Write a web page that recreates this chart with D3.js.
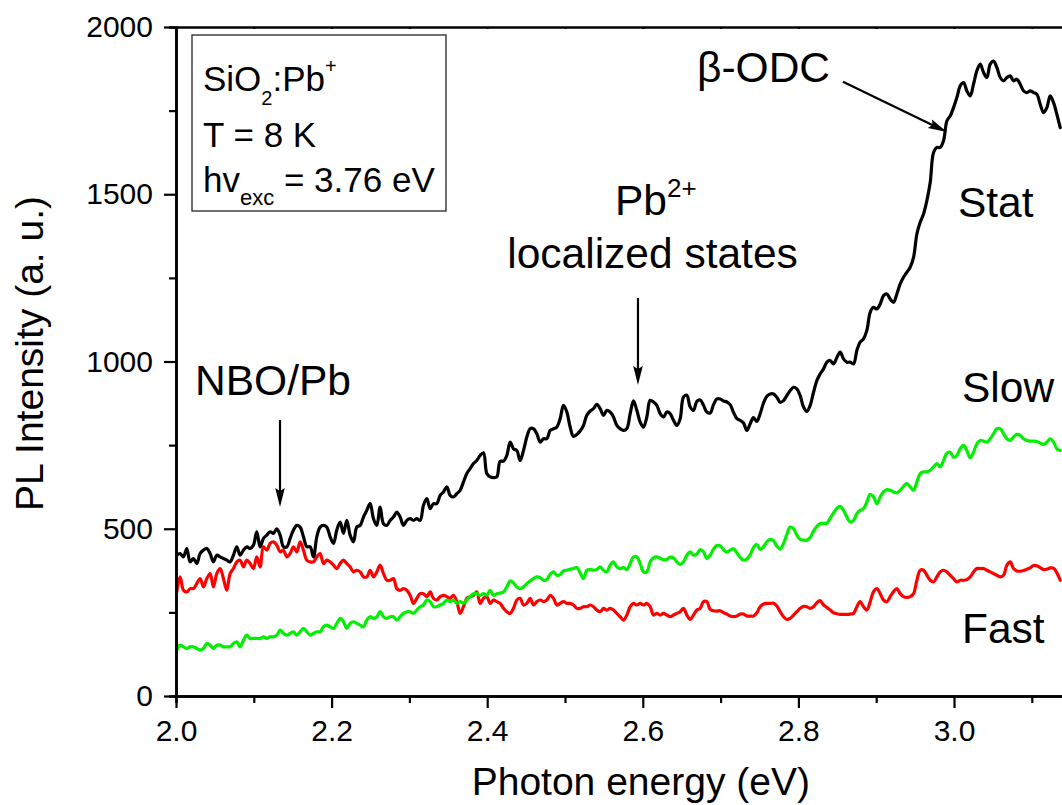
<!DOCTYPE html>
<html>
<head>
<meta charset="utf-8">
<script src="https://cdn.jsdelivr.net/npm/d3@7"></script>
<style>
  html, body { margin: 0; padding: 0; background: #fff; }
  svg { display: block; font-family: "Liberation Sans", Arial, Helvetica, sans-serif; }
</style>
</head>
<body>
<svg id="chart" width="1062" height="805"></svg>
<script>
// Spectrometer channel grid (eV)
const energyStart = 2.001;
const energyStep = 0.004285;

// Steady-state PL spectrum
const statValues = [
  421, 426, 416, 441, 401, 411, 396, 426, 436, 441,
  426, 401, 421, 416, 411, 406, 401, 421, 446, 421,
  436, 446, 441, 451, 491, 446, 471, 481, 491, 486,
  500, 481, 446, 446, 471, 496, 510, 505, 476, 446,
  446, 416, 476, 505, 510, 505, 476, 456, 496, 520,
  486, 525, 481, 461, 505, 510, 535, 555, 575, 530,
  510, 565, 515, 510, 525, 535, 550, 535, 510, 525,
  530, 525, 530, 525, 570, 590, 560, 575, 575, 600,
  610, 625, 600, 595, 605, 615, 640, 665, 680, 695,
  704, 719, 727, 665, 655, 653, 655, 702,
  702, 719, 759, 739, 734, 704, 734, 774, 799, 799,
  784, 759, 769, 769, 794, 799, 804, 829, 869, 849,
  804, 776, 782, 792, 809, 839, 852, 859, 872, 859,
  839, 854, 849, 834, 809, 799, 794, 799, 844, 882,
  854, 819, 804, 834, 884, 879, 869, 844, 834, 849,
  844, 824, 809, 829, 894, 899, 864, 854, 881, 885,
  869, 849, 846, 871, 888, 888, 882, 879, 871, 848,
  829, 824, 816, 794, 814, 832, 821, 844, 876, 896,
  903, 903, 893, 878, 883, 898, 913, 923, 918, 898,
  864, 851, 869, 908, 943, 963, 978, 998, 1003, 993,
  1012, 1028, 1008, 998, 998, 993, 1033, 1058, 1068, 1093,
  1147, 1162, 1157, 1172, 1197, 1202, 1187, 1177, 1202, 1232,
  1252, 1267, 1282, 1311, 1381, 1416, 1441, 1481, 1535, 1625,
  1640, 1640, 1660, 1719, 1734, 1759, 1789, 1824, 1834, 1809,
  1794, 1829, 1869, 1889, 1864, 1849, 1889, 1898, 1879, 1849,
  1839, 1849, 1854, 1839, 1844, 1829, 1809, 1804, 1809, 1804,
  1799, 1769, 1744, 1759, 1794, 1774, 1739, 1699
];

// Slow time-resolved component
const slowValues = [
  137, 152, 147, 142, 147, 147, 142, 137, 142, 157,
  152, 142, 152, 152, 147, 147, 147, 157, 162, 147,
  167, 182, 172, 172, 172, 172, 177, 172, 177, 177,
  182, 197, 187, 182, 187, 192, 182, 192, 202, 192,
  182, 187, 192, 192, 207, 212, 207, 202, 217, 232,
  222, 202, 217, 222, 217, 212, 207, 227, 237, 232,
  237, 252, 237, 232, 237, 237, 227, 237, 247, 252,
  252, 247, 257, 267, 272, 287, 282, 267, 267, 272,
  277, 287, 282, 287, 277, 282, 277, 287, 297, 306,
  306, 301, 306, 301, 316, 301, 306, 308,
  311, 326, 344, 338, 326, 321, 326, 336, 344, 351,
  356, 354, 346, 348, 364, 371, 361, 363, 374, 376,
  379, 381, 384, 368, 351, 376, 378, 376, 378, 386,
  376, 371, 391, 401, 386, 381, 384, 378, 396, 416,
  416, 396, 371, 371, 401, 413, 416, 412, 407, 408,
  415, 413, 401, 393, 401, 421, 431, 421, 424, 438,
  431, 411, 421, 439, 450, 449, 438, 430, 436, 440,
  428, 414, 406, 409, 422, 444, 453, 438, 446, 461,
  468, 464, 448, 439, 456, 483, 505, 500, 481, 468,
  466, 466, 474, 493, 507, 515, 516, 517, 532, 547,
  561, 567, 555, 535, 520, 525, 545, 555, 560, 580,
  603, 595, 575, 595, 610, 617, 615, 610, 607, 615,
  627, 635, 625, 615, 640, 665, 670, 670, 675, 685,
  695, 685, 704, 726, 729, 714, 719, 739, 749, 734,
  712, 729, 754, 764, 762, 759, 769, 784, 799, 799,
  784, 769, 764, 774, 782, 779, 769, 764, 762, 762,
  761, 756, 752, 759, 769, 759, 739, 734
];

// Fast time-resolved component
const fastValues = [
  311, 356, 316, 311, 321, 321, 336, 351, 326, 351,
  366, 326, 366, 381, 351, 316, 366, 381, 401, 406,
  386, 406, 396, 381, 416, 386, 446, 436, 456, 461,
  451, 431, 436, 416, 426, 446, 431, 461, 436, 406,
  401, 401, 416, 426, 396, 406, 401, 391, 381, 396,
  406, 396, 386, 371, 376, 371, 356, 356, 376, 356,
  371, 391, 366, 346, 346, 351, 321, 316, 321, 316,
  301, 277, 292, 306, 306, 297, 311, 292, 287, 297,
  301, 297, 292, 301, 282, 247, 267, 292, 297, 301,
  311, 277, 292, 297, 277, 287, 282, 277,
  262, 252, 247, 262, 287, 292, 272, 277, 292, 272,
  282, 287, 282, 287, 301, 292, 272, 277, 282, 277,
  277, 272, 262, 262, 267, 267, 272, 267, 257, 252,
  262, 257, 262, 257, 247, 237, 227, 242, 267, 277,
  272, 277, 272, 277, 267, 242, 247, 242, 247, 242,
  237, 242, 247, 252, 262, 242, 229, 242, 257, 262,
  282, 282, 259, 255, 254, 255, 249, 245, 239, 237,
  239, 245, 245, 239, 239, 239, 249, 267, 275, 277,
  277, 277, 269, 252, 237, 229, 232, 242, 252, 262,
  268, 267, 262, 267, 279, 285, 272, 265, 257, 249,
  246, 244, 244, 244, 245, 247, 267, 282, 267, 257,
  282, 312, 321, 306, 287, 282, 297, 312, 321, 306,
  297, 295, 297, 306, 346, 376, 376, 361, 346, 341,
  356, 371, 376, 371, 361, 351, 341, 346, 346, 348,
  356, 371, 381, 381, 381, 376, 371, 366, 361, 356,
  361, 391, 401, 381, 374, 373, 375, 379, 383, 390,
  389, 384, 378, 379, 383, 382, 368, 346
];

const xMajorTicks = [2.0, 2.2, 2.4, 2.6, 2.8, 3.0];
const xMinorTicks = [2.1, 2.3, 2.5, 2.7, 2.9, 3.1];
const yMajorTicks = [0, 500, 1000, 1500, 2000];
const yMinorTicks = [250, 750, 1250, 1750];

const series = [
  { name: "Fast", values: fastValues, color: "#ff0000" },
  { name: "Slow", values: slowValues, color: "#00f000" },
  { name: "Stat", values: statValues, color: "#000000" }
];

// ---- layout ----
const svg = d3.select("#chart");
const x = d3.scaleLinear().domain([2.0, 3.2]).range([176, 1109.6]);
const y = d3.scaleLinear().domain([0, 2000]).range([696, 27]);
const [x0, x1] = x.range();
const [yb, yt] = y.range();

svg.append("rect").attr("width", 1062).attr("height", 805).attr("fill", "#fff");

svg.append("defs").append("clipPath").attr("id", "plot-clip")
  .append("rect").attr("x", x0).attr("y", yt).attr("width", x1 - x0).attr("height", yb - yt);

// ---- spectra ----
const line = d3.line()
  .x((d, i) => x(energyStart + i * energyStep))
  .y(d => y(d))
  .curve(d3.curveCatmullRom.alpha(0.5));

const plot = svg.append("g").attr("clip-path", "url(#plot-clip)");
series.forEach(s => {
  plot.append("path")
    .datum(s.values)
    .attr("fill", "none")
    .attr("stroke", s.color)
    .attr("stroke-width", 3.2)
    .attr("stroke-linejoin", "round")
    .attr("stroke-linecap", "round")
    .attr("d", line);
});

// ---- axes ----
function styleAxis(g, fontSize) {
  g.select(".domain").attr("stroke", "#000").attr("stroke-width", 2.6);
  g.selectAll(".tick line").attr("stroke", "#000").attr("stroke-width", 2.2);
  g.selectAll(".tick text").attr("fill", "#000").style("font-size", fontSize + "px");
  g.attr("font-family", null);
}

const fmt = d3.format(".1f");
svg.append("g").attr("transform", `translate(0,${yb})`)
  .call(d3.axisBottom(x).tickValues(xMinorTicks).tickSize(7).tickFormat(""))
  .call(g => styleAxis(g, 30));
svg.append("g").attr("transform", `translate(0,${yb})`)
  .call(d3.axisBottom(x).tickValues(xMajorTicks).tickSizeInner(12).tickSizeOuter(0)
    .tickPadding(12).tickFormat(fmt))
  .call(g => styleAxis(g, 30));

svg.append("g").attr("transform", `translate(${x0},0)`)
  .call(d3.axisLeft(y).tickValues(yMinorTicks).tickSize(7).tickFormat(""))
  .call(g => styleAxis(g, 30));
svg.append("g").attr("transform", `translate(${x0},0)`)
  .call(d3.axisLeft(y).tickValues(yMajorTicks).tickSizeInner(12).tickSizeOuter(0)
    .tickPadding(11).tickFormat(d3.format("d")))
  .call(g => styleAxis(g, 30));

// top frame
svg.append("g").attr("transform", `translate(0,${yt})`)
  .call(d3.axisTop(x).tickValues(xMajorTicks.concat(xMinorTicks)).tickSizeInner(-2).tickSizeOuter(0).tickFormat(""))
  .call(g => styleAxis(g, 30));

// axis titles
svg.append("text")
  .attr("x", (x0 + x1) / 2 - 2).attr("y", 795)
  .attr("text-anchor", "middle").style("font-size", "39px")
  .text("Photon energy (eV)");
svg.append("text")
  .attr("transform", `translate(43,${(yt + yb) / 2 - 8}) rotate(-90)`)
  .attr("text-anchor", "middle").style("font-size", "39px")
  .text("PL Intensity (a. u.)");

// ---- info box ----
const box = svg.append("g").attr("transform", `translate(${x0 + 16},${yt + 8})`);
box.append("rect").attr("width", 254).attr("height", 176)
  .attr("fill", "none").attr("stroke", "#333").attr("stroke-width", 1.4);
const bt = box.append("g").style("font-size", "35px").attr("fill", "#000");
const l1 = bt.append("text").attr("x", 11).attr("y", 56);
l1.append("tspan").text("SiO");
l1.append("tspan").attr("dy", 14).style("font-size", "20px").text("2");
l1.append("tspan").attr("dy", -14).text(":Pb");
l1.append("tspan").attr("dy", -18).style("font-size", "20px").text("+");
bt.append("text").attr("x", 11).attr("y", 112).text("T = 8 K");
const l3 = bt.append("text").attr("x", 11).attr("y", 157);
l3.append("tspan").text("hv");
l3.append("tspan").attr("dy", 13).style("font-size", "22px").text("exc");
l3.append("tspan").attr("dy", -13).text(" = 3.76 eV");

// ---- annotations ----
const labels = [
  { text: "NBO/Pb", e: 2.1247, v: 900, anchor: "middle" },
  { text: "localized states", e: 2.6125, v: 1280, anchor: "middle" },
  { text: "\u03B2-ODC", e: 2.6697, v: 1836, anchor: "start" },
  { text: "Stat", e: 3.0051, v: 1432, anchor: "start" },
  { text: "Slow", e: 3.0103, v: 879, anchor: "start" },
  { text: "Fast", e: 3.0103, v: 158, anchor: "start" }
];
const ann = svg.append("g").style("font-size", "42.5px").attr("fill", "#000");
labels.forEach(l => {
  ann.append("text").attr("x", x(l.e)).attr("y", y(l.v))
    .attr("text-anchor", l.anchor).text(l.text);
});
const pb = ann.append("text").attr("x", x(2.5643)).attr("y", y(1438));
pb.append("tspan").text("Pb");
pb.append("tspan").attr("dy", -18).style("font-size", "26px").text("2+");

const arrows = [
  { from: [2.1337, 825], to: [2.1337, 565] },
  { from: [2.5938, 1190], to: [2.5938, 930] },
  { from: [2.8573, 1836], to: [2.9910, 1686] }
];
const arrowG = svg.append("g");
arrows.forEach(a => {
  const xa = x(a.from[0]), ya = y(a.from[1]);
  const xb = x(a.to[0]), yb2 = y(a.to[1]);
  const ang = Math.atan2(yb2 - ya, xb - xa) * 180 / Math.PI;
  const len = Math.hypot(xb - xa, yb2 - ya);
  const g = arrowG.append("g").attr("transform", `translate(${xa},${ya}) rotate(${ang})`);
  g.append("line").attr("x1", 0).attr("y1", 0).attr("x2", len - 14).attr("y2", 0)
    .attr("stroke", "#000").attr("stroke-width", 2.2);
  g.append("path")
    .attr("d", `M${len},0 L${len - 19},-4.8 L${len - 16},0 L${len - 19},4.8 Z`)
    .attr("fill", "#000");
});
</script>
</body>
</html>
